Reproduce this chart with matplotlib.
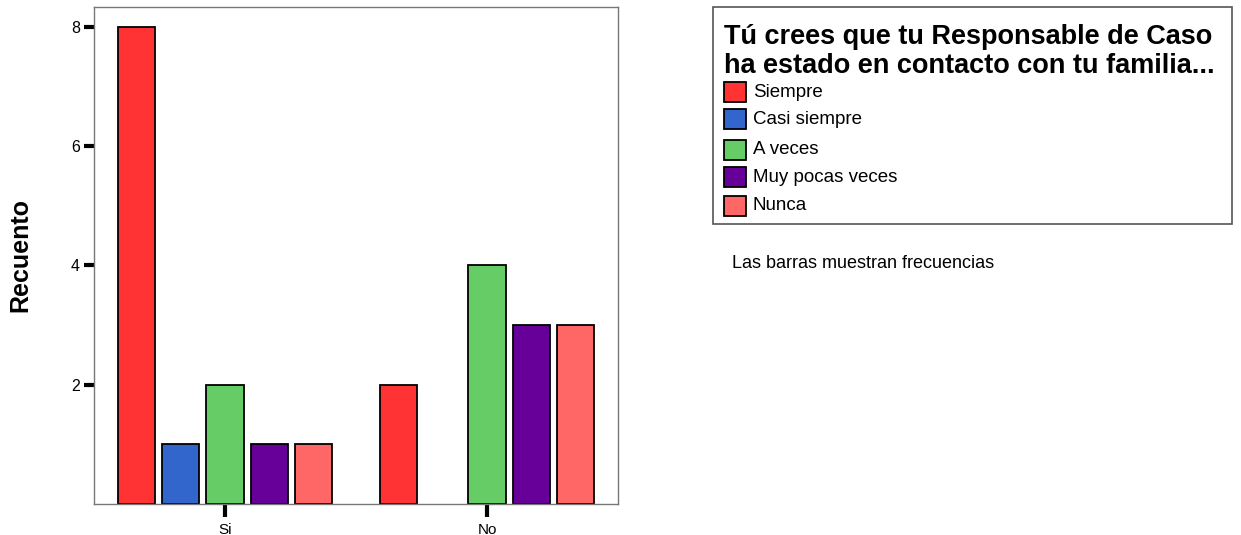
import matplotlib.pyplot as plt
from matplotlib.patches import Rectangle
import numpy as np

plt.rcParams['font.family'] = ['Liberation Sans', 'DejaVu Sans']

groups = ['Si', 'No']
series = ['Siempre', 'Casi siempre', 'A veces', 'Muy pocas veces', 'Nunca']
counts = {
    'Siempre': [8, 2],
    'Casi siempre': [1, 0],
    'A veces': [2, 4],
    'Muy pocas veces': [1, 3],
    'Nunca': [1, 3],
}
colors = ['#ff3333', '#3366cc', '#66cc66', '#660099', '#ff6666']
legend_title = 'Tú crees que tu Responsable de Caso\nha estado en contacto con tu familia...'
note = 'Las barras muestran frecuencias'

W, H = 1241, 535
fig = plt.figure(figsize=(W / 100, H / 100), dpi=100)
ax = fig.add_axes([94 / W, 1 - 504 / H, (618 - 94) / W, (504 - 7) / H])

x = np.arange(len(groups))
step = 0.169
width = 0.142
for i, (name, c) in enumerate(zip(series, colors)):
    vals = np.array(counts[name])
    keep = vals > 0
    ax.bar((x + (i - 2) * step)[keep], vals[keep], width, color=c, edgecolor='black',
           linewidth=1.3, label=name)

ax.set_xlim(-0.5, 1.5)
ax.set_ylim(0, 8.33)
ax.set_xticks(x)
ax.set_xticklabels(groups, fontsize=11)
ax.set_yticks([2, 4, 6, 8])
ax.set_yticklabels(['2', '4', '6', '8'], fontsize=11.5)
ax.tick_params(axis='both', length=7, width=3, color='black', pad=3)
ax.tick_params(axis='x', length=9, pad=5)
for s in ax.spines.values():
    s.set_color('#777777')
    s.set_linewidth(1)
ax.set_ylabel('Recuento', fontsize=18, fontweight='bold', labelpad=28)

# legend drawn in figure pixel coords
def fx(px):
    return px / W

def fy(py):
    return 1 - py / H

fig.patches.append(Rectangle((fx(713), fy(224)), fx(1232) - fx(713), fy(7) - fy(224),
                             transform=fig.transFigure, fill=False,
                             edgecolor='#555555', linewidth=1.2))
title_lines = legend_title.split('\n')
fig.text(fx(724), fy(37), title_lines[0], fontsize=19.5, fontweight='bold', va='center')
fig.text(fx(724), fy(66), title_lines[1], fontsize=19.5, fontweight='bold', va='center')
rows = [92, 119, 150, 177, 206]
for name, c, yy in zip(series, colors, rows):
    fig.patches.append(Rectangle((fx(724), fy(yy + 10)), fx(746) - fx(724), fy(yy - 10) - fy(yy + 10),
                                 transform=fig.transFigure, facecolor=c,
                                 edgecolor='black', linewidth=1.3))
    fig.text(fx(753), fy(yy), name, fontsize=13.5, va='center')

fig.text(fx(732), fy(263), note, fontsize=13, va='center')

fig.savefig('out.png', dpi=100)
